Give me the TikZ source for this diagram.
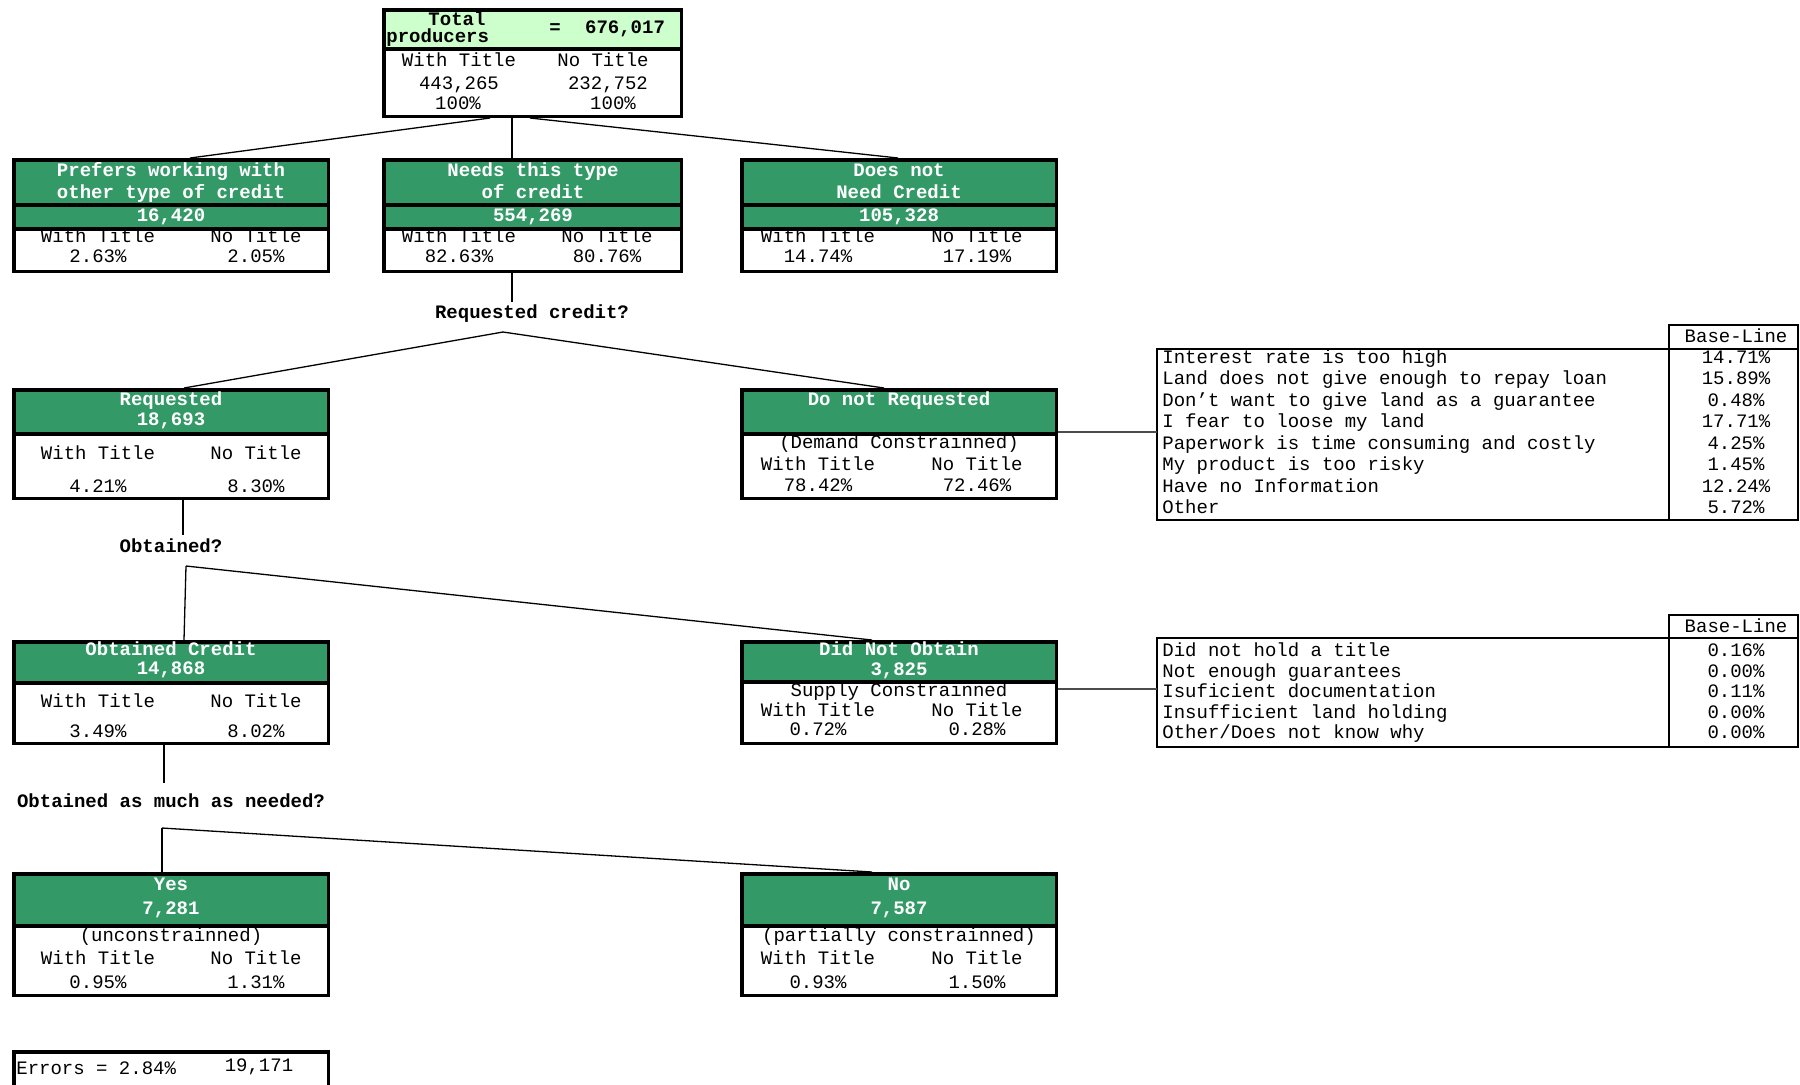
\documentclass[tikz,border=0pt]{standalone}
\usepackage{fontspec}
\usetikzlibrary{calc,fit}
\newfontfamily\mono{Liberation Mono}
\definecolor{seagreen}{RGB}{51,153,102}
\definecolor{palegreen}{RGB}{204,255,204}

\begin{document}
\begin{tikzpicture}[x=0.5pt,y=-0.5pt,
  frame/.style={fill=black, inner sep=0pt, outer sep=0pt},
  txt/.style={font=\mono\fontsize{9.5}{11}\selectfont, inner sep=0pt, text height=6pt, text depth=1.6pt, yshift=-0.8pt},
  hd/.style={txt, font=\mono\bfseries\fontsize{9.5}{11}\selectfont, text=white},
  qs/.style={txt, font=\mono\bfseries\fontsize{9.5}{11}\selectfont},
  link/.style={line width=0.65pt},
  sidelink/.style={line width=0.65pt, black!70},
  tabframe/.style={draw, line width=1.3pt, inner sep=0pt, outer sep=0pt},
  tabhead/.style={draw, line width=1pt, inner sep=0pt, outer sep=0pt},
  row/.style={txt, anchor=west}
]
\clip (0,0) rectangle (1800,1084);
\fill[white] (0,0) rectangle (1800,1084);

% ---------- root ----------
\node[frame, fit={(382,8)(683,118)}] (total) {};
\fill[palegreen] (385.5,11.5) rectangle (679.5,47);
\fill[white] (385.5,51) rectangle (679.5,114.5);
\node[qs] (tot1) at (457,19) {Total};
\node[qs, anchor=west] (tot2) at (386,36) {producers};
\node[qs] (tot3) at (555,27.5) {=};
\node[qs] (tot4) at (625,27.5) {676,017};
\node[txt] (tot5) at (459,60) {With Title};
\node[txt] (tot6) at (603,60) {No Title};
\node[txt] (tot7) at (459,83) {443,265};
\node[txt] (tot8) at (608,83) {232,752};
\node[txt] (tot9) at (458,103) {100\%};
\node[txt] (tot10) at (613,103) {100\%};

% ---------- first level ----------
\node[frame, fit={(12,158)(330,273)}] (prefers) {};
\fill[seagreen] (15.5,162) rectangle (326.5,203);
\fill[seagreen] (15.5,207) rectangle (326.5,227);
\fill[white] (15.5,231) rectangle (326.5,269.5);
\node[hd] (p1) at (171,170) {Prefers working with};
\node[hd] (p2) at (171,192) {other type of credit};
\node[hd] (p3) at (171,215) {16,420};
\node[txt] (p4) at (98,236) {With Title};
\node[txt] (p5) at (256,236) {No Title};
\node[txt] (p6) at (98,256) {2.63\%};
\node[txt] (p7) at (256,256) {2.05\%};

\node[frame, fit={(382,158)(683,273)}] (needs) {};
\fill[seagreen] (385.5,162) rectangle (679.5,203);
\fill[seagreen] (385.5,207) rectangle (679.5,227);
\fill[white] (385.5,231) rectangle (679.5,269.5);
\node[hd] (n1) at (533,170) {Needs this type};
\node[hd] (n2) at (533,192) {of credit};
\node[hd] (n3) at (533,215) {554,269};
\node[txt] (n4) at (459,236) {With Title};
\node[txt] (n5) at (607,236) {No Title};
\node[txt] (n6) at (459,256) {82.63\%};
\node[txt] (n7) at (607,256) {80.76\%};

\node[frame, fit={(740,158)(1058,273)}] (doesnot) {};
\fill[seagreen] (743.5,162) rectangle (1054.5,203);
\fill[seagreen] (743.5,207) rectangle (1054.5,227);
\fill[white] (743.5,231) rectangle (1054.5,269.5);
\node[hd] (d1) at (899,170) {Does not};
\node[hd] (d2) at (899,192) {Need Credit};
\node[hd] (d3) at (899,215) {105,328};
\node[txt] (d4) at (818,236) {With Title};
\node[txt] (d5) at (977,236) {No Title};
\node[txt] (d6) at (818,256) {14.74\%};
\node[txt] (d7) at (977,256) {17.19\%};

\draw[link] ($(total.south)+(-42.5,0)$) -- ($(prefers.north)+(19,0)$);
\draw[link] ($(total.south)+(-20.5,0)$) -- ($(needs.north)+(-20.5,0)$);
\draw[link] ($(total.south)+(-2.5,0)$) -- ($(doesnot.north)+(-1,0)$);

% ---------- requested credit? ----------
\node[qs] (askreq) at (532,312) {Requested credit?};
\coordinate (q1top) at (512,302);
\draw[link] (needs.south -| q1top) -- (q1top);
\coordinate (j1) at (503,332);

\node[frame, fit={(12,388)(330,500)}] (requested) {};
\fill[seagreen] (15.5,392) rectangle (326.5,432);
\fill[white] (15.5,436) rectangle (326.5,496.5);
\node[hd] (r1) at (171,399) {Requested};
\node[hd] (r2) at (171,419) {18,693};
\node[txt] (r3) at (98,453) {With Title};
\node[txt] (r4) at (256,453) {No Title};
\node[txt] (r5) at (98,486) {4.21\%};
\node[txt] (r6) at (256,486) {8.30\%};

\node[frame, fit={(740,388)(1058,500)}] (donotreq) {};
\fill[seagreen] (743.5,392) rectangle (1054.5,432);
\fill[white] (743.5,436) rectangle (1054.5,496.5);
\node[hd] (dr1) at (899,399) {Do not Requested};
\node[txt] (dr2) at (899,442) {(Demand Constrainned)};
\node[txt] (dr3) at (818,464) {With Title};
\node[txt] (dr4) at (977,464) {No Title};
\node[txt] (dr5) at (818,485) {78.42\%};
\node[txt] (dr6) at (977,485) {72.46\%};

\draw[link] (j1) -- ($(requested.north)+(13,0)$);
\draw[link] (j1) -- ($(donotreq.north)+(-15,0)$);

% ---------- obtained? ----------
\node[qs] (askobt) at (171,546) {Obtained?};
\coordinate (q2top) at (183,535);
\draw[link] (requested.south -| q2top) -- (q2top);
\coordinate (j2) at (186,566);

\node[frame, fit={(12,640)(330,745)}] (obtained) {};
\fill[seagreen] (15.5,644) rectangle (326.5,681);
\fill[white] (15.5,685) rectangle (326.5,741.5);
\node[hd] (o1) at (171,649) {Obtained Credit};
\node[hd] (o2) at (171,668) {14,868};
\node[txt] (o3) at (98,701) {With Title};
\node[txt] (o4) at (256,701) {No Title};
\node[txt] (o5) at (98,731) {3.49\%};
\node[txt] (o6) at (256,731) {8.02\%};

\node[frame, fit={(740,640)(1058,745)}] (didnot) {};
\fill[seagreen] (743.5,644) rectangle (1054.5,680);
\fill[white] (743.5,684) rectangle (1054.5,741.5);
\node[hd] (dn1) at (899,649) {Did Not Obtain};
\node[hd] (dn2) at (899,669) {3,825};
\node[txt] (dn3) at (899,690) {Supply Constrainned};
\node[txt] (dn4) at (818,710) {With Title};
\node[txt] (dn5) at (977,710) {No Title};
\node[txt] (dn6) at (818,729) {0.72\%};
\node[txt] (dn7) at (977,729) {0.28\%};

\draw[link] (j2) -- ($(obtained.north)+(13,0)$);
\draw[link] (j2) -- ($(didnot.north)+(-27,0)$);

% ---------- obtained as much as needed? ----------
\node[qs] (askmuch) at (171,801) {Obtained as much as needed?};
\coordinate (q3top) at (164,783);
\draw[link] (obtained.south -| q3top) -- (q3top);
\coordinate (j3) at (162,828);

\node[frame, fit={(12,872)(330,997)}] (yes) {};
\fill[seagreen] (15.5,876) rectangle (326.5,924);
\fill[white] (15.5,928) rectangle (326.5,993.5);
\node[hd] (y1) at (171,884) {Yes};
\node[hd] (y2) at (171,908) {7,281};
\node[txt] (y3) at (171,935) {(unconstrainned)};
\node[txt] (y4) at (98,958) {With Title};
\node[txt] (y5) at (256,958) {No Title};
\node[txt] (y6) at (98,982) {0.95\%};
\node[txt] (y7) at (256,982) {1.31\%};

\node[frame, fit={(740,872)(1058,997)}] (no) {};
\fill[seagreen] (743.5,876) rectangle (1054.5,924);
\fill[white] (743.5,928) rectangle (1054.5,993.5);
\node[hd] (no1) at (899,884) {No};
\node[hd] (no2) at (899,908) {7,587};
\node[txt] (no3) at (899,935) {(partially constrainned)};
\node[txt] (no4) at (818,958) {With Title};
\node[txt] (no5) at (977,958) {No Title};
\node[txt] (no6) at (818,982) {0.93\%};
\node[txt] (no7) at (977,982) {1.50\%};

\draw[link] (j3) -- (yes.north -| j3);
\draw[link] (j3) -- ($(no.north)+(-27,0)$);

% ---------- error summary ----------
\node[frame, fit={(12,1050)(330,1110)}] (errors) {};
\fill[white] (15.5,1053.5) rectangle (326.5,1110);
\node[txt, anchor=west] (e1) at (16,1068) {Errors = 2.84\%};
\node[txt] (e2) at (259,1065) {19,171};

% ---------- reasons for not requesting ----------
\node[tabframe, fit={(1157,349)(1798,520)}] (reasons) {};
\node[tabhead, fit={(1669,325)(1798,349)}] (bl1) {};
\node[txt] (bl1t) at (1736,336) {Base-Line};
\draw[tabhead] (bl1.south west) -- (bl1.south west |- reasons.south);
\node[row] (ra1) at (1162,357) {Interest rate is too high};
\node[row] (ra2) at (1162,378.5) {Land does not give enough to repay loan};
\node[row] (ra3) at (1162,400) {Don’t want to give land as a guarantee};
\node[row] (ra4) at (1162,421.5) {I fear to loose my land};
\node[row] (ra5) at (1162,443) {Paperwork is time consuming and costly};
\node[row] (ra6) at (1162,464.5) {My product is too risky};
\node[row] (ra7) at (1162,486) {Have no Information};
\node[row] (ra8) at (1162,507.5) {Other};
\node[txt] (rv1) at (1736,357) {14.71\%};
\node[txt] (rv2) at (1736,378.5) {15.89\%};
\node[txt] (rv3) at (1736,400) {0.48\%};
\node[txt] (rv4) at (1736,421.5) {17.71\%};
\node[txt] (rv5) at (1736,443) {4.25\%};
\node[txt] (rv6) at (1736,464.5) {1.45\%};
\node[txt] (rv7) at (1736,486) {12.24\%};
\node[txt] (rv8) at (1736,507.5) {5.72\%};
\draw[sidelink] ($(donotreq.north east)+(0,44)$) -- ($(reasons.north west)+(0,83)$);

% ---------- reasons for not obtaining ----------
\node[tabframe, fit={(1157,638)(1798,747)}] (causes) {};
\node[tabhead, fit={(1669,615)(1798,638)}] (bl2) {};
\node[txt] (bl2t) at (1736,626) {Base-Line};
\draw[tabhead] (bl2.south west) -- (bl2.south west |- causes.south);
\node[row] (ca1) at (1162,650.5) {Did not hold a title};
\node[row] (ca2) at (1162,671) {Not enough guarantees};
\node[row] (ca3) at (1162,691.5) {Isuficient documentation};
\node[row] (ca4) at (1162,712) {Insufficient land holding};
\node[row] (ca5) at (1162,732.5) {Other/Does not know why};
\node[txt] (cv1) at (1736,650.5) {0.16\%};
\node[txt] (cv2) at (1736,671) {0.00\%};
\node[txt] (cv3) at (1736,691.5) {0.11\%};
\node[txt] (cv4) at (1736,712) {0.00\%};
\node[txt] (cv5) at (1736,732.5) {0.00\%};
\draw[sidelink] ($(didnot.north east)+(0,49)$) -- ($(causes.north west)+(0,51)$);
\end{tikzpicture}
\end{document}
